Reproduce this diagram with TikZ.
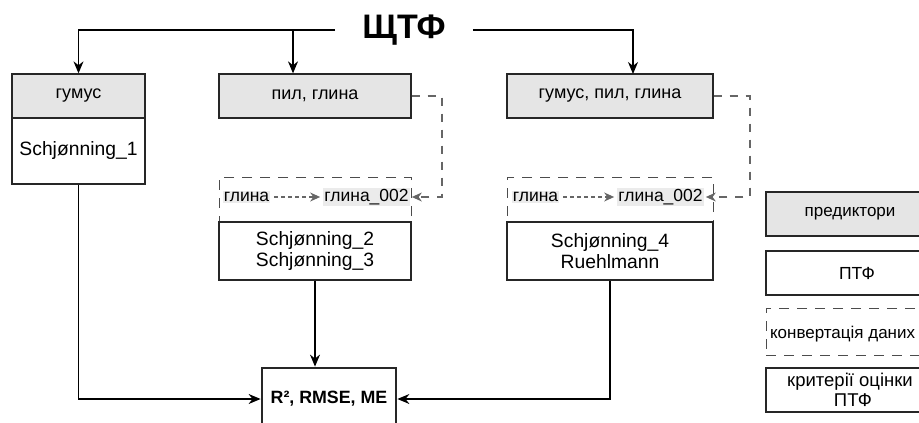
\documentclass[tikz,border=0pt]{standalone}
\usepackage{fontspec}
\setmainfont{Liberation Sans}
\usetikzlibrary{arrows.meta}

\begin{document}
\begin{tikzpicture}[x=1pt,y=-1pt,
  box/.style={draw=black!85,line width=1.3pt,inner sep=0pt,align=center,font=\fontsize{19.3}{21}\selectfont},
  pred/.style={box,fill=black!10,font=\fontsize{18}{22}\selectfont},
  crit/.style={box,line width=2.8pt},
  conv/.style={draw=black!70,line width=1pt,dash pattern=on 10pt off 8pt,inner sep=0pt},
  lbl/.style={fill=black!8,inner sep=1pt,font=\fontsize{17.5}{20}\selectfont},
  arr/.style={-{Stealth[length=12pt,width=10pt]},line width=1.2pt},
  cvarr/.style={-{Stealth[length=10pt,width=9pt]},draw=black!60,line width=1.1pt,dash pattern=on 8pt off 8pt}]
\clip (0,0) rectangle (919,423);

\node(shtf) at (404,30)[inner xsep=27pt,font=\bfseries\fontsize{34}{40}\selectfont]{ЩТФ};

\node(gum)  at (78.5,96)[pred,minimum width=133pt,minimum height=44pt]{гумус};
\node(sch1) at (78.5,151)[box,minimum width=133pt,minimum height=66pt]{Schjønning\_1};

\node(pil)  at (315,96)[pred,minimum width=192pt,minimum height=44pt]{пил, глина};
\node(cv1)  at (315,199.5)[conv,minimum width=192pt,minimum height=45pt]{};
\node(g1a)  at (246.5,197)[lbl]{глина};
\node(g1b)  at (366.5,197)[lbl]{глина\_002};
\node(ptf2) at (315,251)[box,minimum width=192pt,minimum height=58pt]{Schjønning\_2\\Schjønning\_3};

\node(gpg)  at (610,96)[pred,minimum width=206pt,minimum height=44pt]{гумус, пил, глина};
\node(cv2)  at (610,199.5)[conv,minimum width=206pt,minimum height=45pt]{};
\node(g2a)  at (535.5,197)[lbl]{глина};
\node(g2b)  at (660.5,197)[lbl]{глина\_002};
\node(ptf3) at (610,251)[box,minimum width=206pt,minimum height=58pt]{Schjønning\_4\\Ruehlmann};

\node(res)  at (329,399)[crit,minimum width=134pt,minimum height=62pt,font=\bfseries\fontsize{17.8}{20}\selectfont]{R², RMSE, ME};

\node(lpred) at (850,214)[pred,minimum width=168pt,minimum height=44pt,font=\fontsize{17}{20}\selectfont]{предиктори};
\node(lptf)  at (850,273)[box,minimum width=168pt,minimum height=44pt,font=\fontsize{17.5}{20}\selectfont]{\hspace{14pt}ПТФ};
\node(lconv) at (850,331.5)[conv,minimum width=168pt,minimum height=47pt]{};
\node(lcvt)  at (lconv.west)[anchor=west,xshift=1pt,yshift=-3pt,font=\fontsize{17}{20}\selectfont]{конвертація даних};
\node(lcrit) at (850,390)[crit,minimum width=168pt,minimum height=44pt,font=\fontsize{18.5}{20}\selectfont]{критерії оцінки\\\hspace{6pt}ПТФ};

\coordinate(brM) at (293,30);
\coordinate(brR) at (633,74);
\coordinate(dk1) at (442,96);
\coordinate(dk2) at (750,96);

\draw[arr] (shtf.west) -| (gum.north);
\draw[arr] (brM) -- (brM |- pil.north);
\draw[arr] (shtf.east) -| (brR);
\draw[arr] (sch1.south) |- (res.west);
\draw[arr] (ptf2.south) -- (ptf2.south |- res.north);
\draw[arr] (ptf3.south) |- (res.east);

\draw[cvarr] (pil.east) -- (dk1) |- ([xshift=2pt]g1b.east);
\draw[cvarr] (gpg.east) -- (dk2) |- ([xshift=2pt]g2b.east);
\draw[cvarr,dash pattern=on 4pt off 3pt,shorten <=4pt,shorten >=3pt] (g1a) -- (g1b);
\draw[cvarr,dash pattern=on 4pt off 3pt,shorten <=4pt,shorten >=3pt] (g2a) -- (g2b);
\end{tikzpicture}
\end{document}
